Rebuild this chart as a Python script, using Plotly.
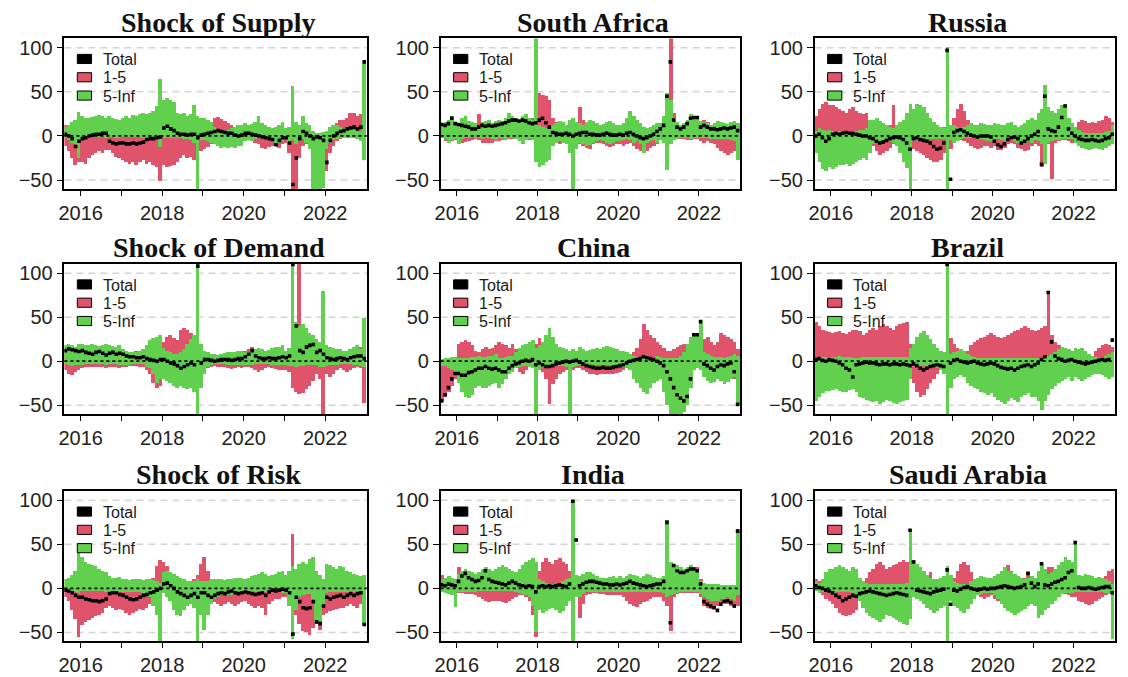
import numpy as np
import pandas as pd
import plotly.graph_objects as go

# Monthly observations, Aug 2015 .. Dec 2022 (89 months)
months = pd.period_range("2015-08", "2022-12", freq="M")
x_year = np.array([p.year + (p.month - 0.5) / 12 for p in months])

# ---------------- Shock of Supply ----------------
supply_total = [2, 0, -3, -12, -6,
    -3, -2, 0, 1, 2, 2, 3, 3, -6, -8, -9, -8,
    -8, -9, -9, -8, -9, -8, -7, -4, -3, -3, -2, -1,
    9, 11, 8, 6, 3, 2, 2, 1, 2, 2, -2, 1,
    2, 3, 4, 5, 6, 5, 4, 3, 3, 1, 0, 1,
    3, 3, 2, 1, 0, -1, -2, -3, -4, -10, -5, -2,
    -2, -8, -55, -25, -3, 5, 3, 0, -3, -1, -2, -5,
    -30, -5, 0, 3, 5, 6, 8, 9, 10, 8, 10, 84]
supply_15_hi = [12, 5, 3, 2, 2,
    2, 1, 1, 1, 1, 1, 1, 1, 1, 1, 1, 1,
    1, 1, 1, 1, 1, 1, 1, 1, 1, 1, 1, 1,
    1, 1, 1, 1, 1, 1, 1, 1, 1, 1, 1, 1,
    3, 5, 12, 20, 21, 19, 16, 14, 12, 8, 6, 5,
    10, 11, 8, 6, 5, 3, 2, 2, 1, 2, 3, 5,
    4, 3, 2, 2, 2, 3, 2, 2, 2, 1, 1, 1,
    3, 8, 12, 14, 18, 17, 20, 25, 26, 22, 24, 20]
supply_15_lo = [-12, -18, -25, -33, -30,
    -30, -32, -25, -22, -20, -18, -20, -17, -16, -20, -24, -25,
    -28, -30, -32, -30, -33, -30, -28, -32, -30, -33, -36, -52,
    -34, -36, -35, -33, -30, -25, -22, -26, -24, -28, -20, -18,
    -15, -13, -10, -5, -3, -2, -2, -2, -3, -4, -5, -5,
    -3, -4, -6, -8, -10, -14, -15, -13, -12, -12, -14, -10,
    -8, -20, -62, -62, -25, -12, -10, -14, -22, -30, -42, -38,
    -40, -20, -12, -6, -4, -3, -3, -3, -2, -2, -3, -5]
supply_5inf_hi = [10, 12, 15, 18, 27,
    22, 20, 20, 21, 22, 23, 22, 20, 22, 20, 19, 18,
    20, 22, 20, 23, 22, 24, 25, 24, 26, 28, 33, 64,
    40, 42, 40, 38, 26, 24, 25, 22, 24, 34, 22, 20,
    20, 18, 15, 10, 6, 5, 5, 6, 8, 10, 12, 12,
    14, 12, 13, 15, 22, 14, 12, 10, 8, 10, 12, 15,
    8, 10, 56, 15, 12, 22, 14, 12, 5, 3, 3, 4,
    5, 10, 12, 12, 10, 8, 8, 8, 6, 6, 5, 82]
supply_5inf_lo = [-3, -5, -8, -10, -26,
    -4, -3, -3, -2, -2, -2, -2, -3, -2, -2, -3, -3,
    -2, -2, -2, -2, -2, -2, -3, -3, -3, -3, -5, -13,
    -3, -3, -3, -3, -3, -3, -4, -4, -5, -8, -62, -5,
    -5, -6, -8, -10, -12, -14, -13, -14, -13, -14, -12, -12,
    -6, -5, -6, -4, -3, -3, -3, -4, -5, -10, -8, -6,
    -3, -8, -5, -10, -6, -4, -8, -15, -62, -62, -62, -60,
    -15, -8, -5, -4, -3, -3, -3, -3, -3, -4, -6, -28]

# ---------------- South Africa ----------------
zaf_total = [13, 12, 14, 20, 14,
    13, 12, 11, 10, 8, 8, 10, 12, 11, 12, 11, 12,
    13, 14, 15, 17, 18, 18, 17, 18, 17, 15, 14, 15,
    18, 20, 15, 10, 4, 3, 2, 2, 3, 2, 0, 2,
    3, 4, 4, 2, 2, 1, 1, 2, 3, 2, 1, 1,
    2, 1, 3, 4, 2, 0, -2, -3, -2, 0, 2, 5,
    8, 12, 45, 84, 18, 10, 8, 10, 14, 20, 21, 21,
    10, 12, 10, 8, 8, 7, 8, 9, 8, 9, 10, 6]
zaf_15_hi = [12, 14, 8, 6, 5,
    3, 3, 4, 5, 6, 8, 24, 10, 8, 6, 5, 5,
    5, 6, 5, 8, 6, 5, 6, 8, 10, 12, 20, 35,
    48, 46, 45, 40, 20, 15, 12, 10, 12, 10, 18, 12,
    32, 18, 10, 8, 6, 5, 5, 4, 5, 4, 4, 4,
    6, 5, 4, 4, 3, 3, 3, 3, 3, 4, 5, 10,
    10, 14, 20, 110, 25, 12, 10, 8, 10, 14, 15, 12,
    16, 18, 15, 12, 10, 8, 7, 6, 6, 5, 5, 5]
zaf_15_lo = [-3, -6, -8, -6, -5,
    -8, -8, -7, -6, -5, -4, -5, -8, -9, -8, -8, -6,
    -6, -5, -5, -4, -4, -4, -5, -6, -5, -5, -3, -3,
    -3, -3, -3, -4, -6, -8, -10, -8, -10, -12, -10, -12,
    -10, -12, -14, -15, -10, -9, -8, -10, -12, -13, -12, -10,
    -10, -12, -10, -8, -12, -15, -18, -20, -18, -14, -12, -10,
    -3, -3, -3, -3, -3, -4, -4, -4, -5, -5, -4, -4,
    -6, -8, -6, -8, -10, -14, -18, -20, -22, -20, -18, -12]
zaf_5inf_hi = [12, 15, 18, 22, 15,
    14, 20, 22, 16, 15, 14, 12, 15, 16, 18, 14, 16,
    18, 16, 20, 25, 22, 20, 18, 22, 24, 20, 18, 110,
    12, 10, 8, 10, 12, 14, 16, 15, 12, 18, 20, 15,
    14, 12, 15, 18, 16, 14, 12, 13, 15, 16, 14, 12,
    12, 14, 20, 28, 22, 18, 14, 10, 8, 10, 12, 14,
    14, 22, 48, 40, 20, 15, 12, 14, 18, 24, 22, 22,
    16, 15, 14, 12, 14, 16, 15, 14, 13, 15, 16, 14]
zaf_5inf_lo = [-3, -4, -8, -5, -4,
    -10, -4, -3, -3, -2, -3, -3, -4, -3, -3, -4, -5,
    -3, -4, -5, -3, -3, -4, -6, -10, -5, -4, -5, -30,
    -36, -34, -30, -28, -12, -8, -6, -8, -10, -20, -62, -15,
    -8, -10, -12, -11, -8, -6, -5, -6, -8, -10, -8, -6,
    -6, -5, -4, -5, -8, -6, -10, -20, -8, -6, -5, -8,
    -5, -8, -39, -10, -5, -4, -3, -3, -3, -4, -3, -3,
    -3, -3, -3, -4, -4, -4, -4, -4, -4, -5, -6, -28]

# ---------------- Russia ----------------
rus_total = [0, 2, -2, -6, -3,
    2, 3, 2, 3, 4, 3, 3, 2, 1, 0, 0, -2,
    -3, -6, -8, -7, -5, -3, -2, -1, -2, -4, -8, -15,
    -3, -2, -4, -5, -6, -8, -12, -15, -14, -8, 97, -49,
    4, 6, 7, 5, 3, 1, 0, -1, 0, 0, 0, -1,
    -6, -10, -12, -9, -4, -2, -1, -3, -8, -6, -3, 0,
    2, 5, -32, 45, 8, 6, 5, 10, 21, 34, 8, 3,
    0, -3, -4, -5, -5, -4, -5, -6, -5, -3, -2, 2]
rus_15_hi = [22, 30, 36, 38, 35,
    35, 32, 30, 28, 26, 30, 32, 28, 26, 24, 25, 10,
    4, 3, 3, 5, 6, 12, 34, 10, 8, 12, 15, 12,
    5, 4, 4, 5, 6, 6, 8, 10, 8, 10, 12, 10,
    20, 30, 36, 28, 18, 8, 6, 5, 5, 6, 6, 6,
    5, 4, 3, 3, 4, 6, 8, 10, 12, 10, 8, 6,
    8, 10, 12, 6, 8, 12, 15, 18, 14, 12, 10, 8,
    8, 15, 18, 16, 14, 15, 14, 16, 18, 22, 20, 15]
rus_15_lo = [-3, -3, -4, -5, -5,
    -4, -4, -4, -4, -3, -3, -4, -4, -4, -5, -5, -6,
    -12, -18, -22, -20, -18, -14, -10, -8, -10, -12, -14, -15,
    -15, -18, -20, -22, -25, -28, -30, -30, -28, -20, -30, -15,
    -6, -5, -5, -6, -8, -12, -14, -15, -14, -12, -12, -14,
    -12, -16, -17, -14, -10, -8, -10, -14, -15, -18, -16, -12,
    -10, -12, -36, -15, -10, -49, -8, -6, -5, -5, -6, -8,
    -8, -6, -5, -4, -4, -4, -4, -4, -4, -5, -6, -8]
rus_5inf_hi = [5, 8, 6, 5, 6,
    5, 5, 5, 4, 4, 4, 5, 5, 6, 6, 8, 18,
    18, 20, 16, 14, 12, 10, 8, 12, 15, 18, 25, 36,
    30, 36, 35, 32, 25, 20, 15, 12, 10, 8, 100, 12,
    12, 10, 8, 10, 12, 14, 12, 12, 14, 13, 12, 12,
    14, 13, 12, 12, 14, 15, 12, 10, 12, 14, 18, 20,
    18, 25, 30, 57, 32, 28, 26, 30, 34, 36, 20, 14,
    10, 6, 4, 3, 3, 3, 3, 3, 3, 4, 5, 12]
rus_5inf_lo = [-20, -30, -38, -40, -36,
    -38, -36, -34, -33, -32, -35, -32, -30, -28, -26, -28, -20,
    -10, -8, -6, -5, -5, -6, -8, -12, -20, -30, -37, -62,
    -6, -5, -5, -5, -4, -4, -4, -4, -4, -4, -62, -5,
    -8, -6, -4, -3, -3, -3, -3, -4, -4, -5, -6, -6,
    -4, -4, -5, -6, -5, -5, -6, -8, -10, -8, -6, -8,
    -5, -6, -10, -32, -8, -6, -5, -5, -4, -4, -4, -4,
    -8, -12, -14, -15, -16, -15, -14, -15, -16, -14, -12, -10]

# ---------------- Shock of Demand ----------------
demand_total = [12, 14, 13, 12, 11,
    12, 10, 9, 8, 10, 11, 9, 7, 9, 10, 8, 9,
    8, 6, 5, 5, 4, 4, 5, 3, 2, 1, 0, 2,
    2, 0, -2, -3, -5, -8, -6, -4, -2, -4, 108, -2,
    2, 2, 1, 0, 1, 2, 2, 2, 1, 2, 3, 3,
    5, 8, 12, 6, 4, 3, 3, 4, 3, 3, 4, 5,
    4, 6, 110, 40, 12, 10, 16, 18, 19, 10, 12, 8,
    4, 3, 2, 3, 4, 3, 2, 4, 5, 6, 6, 3]
demand_15_hi = [14, 12, 10, 8, 8,
    10, 9, 9, 10, 8, 8, 9, 10, 12, 10, 11, 12,
    13, 12, 10, 11, 12, 11, 10, 12, 10, 8, 6, 8,
    22, 28, 30, 26, 24, 35, 38, 36, 32, 30, 42, 20,
    5, 4, 3, 3, 3, 3, 3, 3, 3, 3, 3, 4,
    12, 14, 16, 12, 8, 6, 5, 4, 4, 5, 6, 6,
    6, 8, 20, 40, 110, 15, 10, 8, 8, 6, 6, 6,
    4, 4, 4, 5, 5, 6, 8, 10, 12, 15, 16, 14]
demand_15_lo = [-10, -14, -16, -12, -10,
    -8, -7, -6, -7, -6, -6, -7, -8, -7, -6, -6, -8,
    -6, -6, -5, -5, -5, -6, -6, -10, -15, -25, -30, -28,
    -10, -12, -8, -6, -6, -5, -5, -6, -8, -10, -15, -10,
    -10, -8, -6, -5, -6, -7, -6, -8, -9, -8, -7, -8,
    -6, -7, -8, -10, -12, -10, -8, -7, -8, -9, -10, -10,
    -10, -12, -30, -35, -37, -36, -32, -28, -22, -15, -20, -62,
    -15, -18, -14, -10, -8, -10, -12, -10, -8, -6, -8, -47]
demand_5inf_hi = [18, 20, 18, 16, 20,
    20, 18, 18, 20, 18, 17, 19, 20, 18, 17, 16, 18,
    14, 12, 10, 10, 10, 12, 14, 18, 24, 26, 28, 30,
    15, 12, 10, 8, 8, 10, 14, 20, 25, 30, 112, 20,
    12, 10, 8, 8, 7, 8, 9, 10, 10, 11, 12, 12,
    10, 10, 12, 14, 15, 14, 12, 13, 15, 16, 16, 18,
    12, 15, 110, 45, 40, 42, 38, 32, 30, 25, 22, 80,
    18, 16, 15, 14, 14, 12, 12, 14, 16, 18, 14, 49]
demand_5inf_lo = [-3, -4, -5, -4, -4,
    -4, -3, -3, -3, -3, -3, -3, -4, -3, -3, -3, -4,
    -4, -4, -4, -3, -3, -3, -3, -6, -8, -15, -25, -20,
    -20, -22, -25, -28, -30, -28, -30, -32, -30, -35, -62, -30,
    -15, -6, -4, -3, -3, -3, -3, -4, -4, -4, -4, -4,
    -4, -4, -4, -3, -3, -3, -3, -3, -4, -4, -4, -4,
    -4, -5, -5, -6, -5, -5, -4, -4, -4, -4, -6, -6,
    -5, -4, -4, -4, -3, -3, -3, -3, -4, -4, -5, -6]

# ---------------- China ----------------
chn_total = [-45, -38, -30, -20, -14,
    -14, -16, -16, -13, -12, -10, -8, -8, -6, -8, -9, -8,
    -10, -12, -12, -8, -5, -3, -2, 0, 1, 0, 2, -4,
    -2, -4, -6, -6, -5, -3, -2, -1, 0, -1, 0, 1,
    -1, -3, -5, -6, -7, -8, -8, -7, -8, -8, -7, -6,
    -5, -4, -2, 0, 1, 2, 3, 5, 4, 3, 2, 0,
    -2, -5, -12, -20, -30, -38, -42, -45, -40, -20, 30, 30,
    45, -3, -5, -8, -10, -6, -4, -5, -3, -2, -12, -49]
chn_15_hi = [3, 3, 3, 4, 5,
    20, 22, 24, 22, 18, 12, 10, 14, 16, 14, 15, 18,
    22, 20, 18, 15, 20, 14, 10, 8, 8, 10, 24, 20,
    26, 22, 15, 8, 6, 5, 8, 10, 12, 10, 8, 6,
    6, 5, 5, 4, 4, 4, 4, 4, 4, 4, 4, 5,
    5, 5, 6, 8, 10, 15, 25, 42, 36, 30, 26, 22,
    18, 15, 12, 12, 14, 16, 18, 20, 15, 10, 12, 14,
    20, 25, 28, 22, 18, 22, 32, 30, 28, 25, 22, 14]
chn_15_lo = [-45, -40, -35, -28, -20,
    -5, -4, -3, -3, -3, -4, -4, -4, -5, -5, -6, -5,
    -3, -3, -3, -4, -5, -8, -12, -14, -10, -6, -8, -10,
    -8, -12, -20, -48, -26, -20, -15, -12, -10, -12, -10, -8,
    -8, -10, -12, -14, -15, -16, -15, -14, -14, -15, -14, -13,
    -12, -10, -8, -6, -5, -4, -4, -4, -4, -4, -5, -5,
    -8, -10, -12, -10, -8, -6, -5, -5, -5, -6, -6, -8,
    -4, -4, -4, -5, -5, -5, -4, -4, -5, -8, -20, -26]
chn_5inf_hi = [3, 4, 4, 5, 5,
    4, 4, 4, 4, 5, 5, 6, 5, 5, 6, 6, 8,
    4, 4, 5, 6, 6, 10, 15, 18, 20, 22, 24, 15,
    18, 22, 30, 38, 28, 20, 16, 15, 14, 12, 14, 12,
    16, 14, 12, 13, 14, 15, 14, 16, 17, 16, 15, 14,
    12, 12, 10, 8, 6, 5, 4, 4, 4, 5, 5, 6,
    5, 4, 4, 4, 4, 4, 6, 10, 20, 28, 32, 32,
    46, 10, 8, 6, 5, 5, 5, 4, 5, 6, 8, 6]
chn_5inf_lo = [-5, -5, -8, -10, -15,
    -25, -35, -40, -42, -38, -30, -28, -30, -30, -28, -26, -25,
    -30, -26, -20, -15, -12, -8, -6, -5, -5, -6, -8, -62,
    -10, -6, -5, -5, -5, -4, -5, -5, -6, -62, -6, -5,
    -4, -4, -4, -4, -4, -4, -4, -4, -4, -4, -4, -4,
    -5, -6, -8, -10, -20, -25, -30, -35, -37, -30, -25, -22,
    -20, -35, -50, -62, -62, -62, -60, -58, -50, -30, -10, -8,
    -10, -18, -22, -25, -24, -20, -22, -26, -24, -20, -18, -50]

# ---------------- Brazil ----------------
bra_total = [2, 3, 1, 0, 2,
    1, 0, -2, -4, -8, -10, -18, -4, -3, -2, -1, -2,
    -2, -3, -4, -3, -3, -4, -3, -3, -4, -3, -4, -5,
    -3, -5, -8, -10, -8, -6, -5, -4, -5, -6, 110, -2,
    1, 2, 0, -1, -2, -1, 0, -2, -3, -4, -3, -2,
    -3, -5, -7, -8, -9, -8, -10, -8, -6, -5, -4, -6,
    -4, -2, 2, 5, 78, 22, 6, 3, 2, 0, 1, 2,
    0, -1, -2, -3, -2, -1, 0, 1, 2, 1, 2, 24]
bra_15_hi = [45, 40, 36, 34, 33,
    32, 33, 34, 32, 31, 33, 35, 36, 34, 30, 32, 35,
    38, 36, 40, 42, 40, 38, 36, 40, 42, 44, 45, 20,
    3, 3, 3, 3, 3, 3, 3, 3, 3, 5, 8, 26,
    20, 15, 10, 8, 12, 18, 22, 24, 26, 28, 30, 32,
    30, 28, 26, 28, 30, 32, 34, 36, 38, 40, 38, 36,
    34, 36, 38, 40, 80, 30, 22, 18, 15, 14, 12, 10,
    10, 8, 6, 5, 4, 6, 12, 15, 18, 20, 18, 16]
bra_15_lo = [-3, -3, -3, -3, -3,
    -3, -3, -3, -3, -3, -3, -3, -3, -3, -3, -3, -3,
    -3, -3, -3, -3, -3, -3, -3, -3, -3, -3, -3, -10,
    -25, -35, -40, -38, -32, -25, -20, -15, -10, -6, -5, -5,
    -6, -8, -8, -6, -4, -3, -3, -3, -3, -3, -3, -3,
    -3, -3, -3, -3, -3, -3, -3, -3, -3, -3, -3, -3,
    -3, -3, -3, -3, -3, -3, -4, -5, -6, -8, -8, -6,
    -6, -8, -10, -10, -8, -6, -4, -4, -4, -4, -4, -4]
bra_5inf_hi = [4, 5, 5, 5, 5,
    5, 5, 6, 5, 5, 5, 4, 4, 4, 5, 5, 5,
    5, 5, 5, 5, 5, 5, 5, 5, 5, 5, 5, 15,
    20, 28, 32, 34, 30, 25, 20, 15, 12, 10, 112, 8,
    10, 12, 14, 12, 8, 6, 5, 4, 4, 4, 4, 4,
    4, 4, 4, 4, 4, 4, 4, 4, 4, 4, 4, 4,
    4, 4, 4, 4, 6, 8, 10, 14, 16, 15, 14, 12,
    15, 14, 15, 12, 8, 6, 5, 4, 5, 6, 8, 10]
bra_5inf_lo = [-45, -40, -36, -34, -34,
    -33, -32, -34, -35, -35, -33, -32, -35, -40, -42, -44, -45,
    -46, -45, -48, -46, -44, -45, -47, -48, -46, -45, -44, -20,
    -5, -5, -5, -5, -5, -5, -6, -8, -10, -15, -62, -30,
    -20, -18, -16, -18, -25, -28, -30, -32, -35, -36, -38, -36,
    -40, -44, -46, -48, -45, -42, -44, -46, -40, -38, -36, -40,
    -40, -45, -55, -45, -38, -32, -28, -25, -22, -20, -18, -22,
    -18, -20, -22, -20, -18, -16, -14, -15, -16, -18, -20, -18]

# ---------------- Shock of Risk ----------------
risk_total = [-2, -3, -5, -8, -10,
    -10, -12, -13, -14, -14, -15, -14, -12, -6, -5, -5, -7,
    -8, -10, -12, -13, -12, -10, -8, -7, -5, -4, -2, 0,
    5, 6, 3, 0, -4, -6, -8, -10, -8, -6, -10, -5,
    -5, -8, -10, -8, -6, -5, -6, -4, -3, -5, -6, -5,
    -4, -5, -6, -7, -6, -5, -8, -4, -2, -3, -2, -1,
    -2, -5, -52, -10, -15, -22, -23, -22, -15, -38, -40, -20,
    -10, -12, -10, -9, -8, -10, -8, -6, -8, -6, -5, -41]
risk_15_hi = [3, 3, 3, 3, 3,
    3, 3, 3, 3, 3, 3, 3, 3, 3, 3, 3, 3,
    3, 3, 3, 3, 3, 3, 3, 3, 5, 12, 25, 32,
    30, 25, 15, 8, 5, 4, 4, 5, 6, 10, 15, 28,
    35, 20, 8, 5, 4, 4, 4, 4, 4, 4, 4, 4,
    4, 4, 4, 4, 4, 4, 4, 5, 5, 5, 6, 6,
    4, 5, 62, 5, 5, 5, 5, 5, 5, 5, 5, 4,
    3, 3, 3, 3, 3, 3, 3, 3, 3, 3, 3, 3]
risk_15_lo = [-10, -15, -25, -35, -55,
    -42, -38, -36, -34, -32, -30, -28, -22, -20, -22, -25, -24,
    -25, -28, -30, -28, -26, -24, -25, -22, -18, -15, -12, -8,
    -5, -5, -6, -8, -8, -8, -8, -8, -8, -8, -8, -6,
    -5, -10, -14, -16, -18, -20, -18, -16, -18, -20, -18, -16,
    -15, -18, -20, -22, -20, -22, -30, -18, -14, -12, -12, -10,
    -10, -8, -20, -30, -40, -48, -50, -53, -45, -40, -47, -30,
    -28, -26, -25, -24, -22, -22, -20, -18, -20, -22, -18, -15]
risk_5inf_hi = [10, 12, 15, 20, 41,
    35, 30, 28, 26, 25, 22, 20, 18, 14, 12, 12, 13,
    10, 10, 9, 10, 11, 10, 9, 10, 10, 9, 8, 6,
    18, 20, 18, 16, 14, 12, 10, 8, 8, 8, 10, 8,
    8, 8, 10, 10, 11, 10, 9, 10, 11, 12, 12, 12,
    10, 12, 14, 15, 16, 18, 16, 14, 15, 16, 18, 20,
    15, 20, 25, 22, 28, 30, 28, 33, 35, 20, 15, 10,
    28, 26, 24, 22, 25, 24, 20, 18, 16, 15, 14, 15]
risk_5inf_lo = [-3, -3, -4, -4, -5,
    -3, -3, -3, -3, -3, -3, -3, -4, -4, -4, -4, -4,
    -4, -4, -4, -4, -4, -4, -5, -6, -10, -20, -30, -62,
    -5, -10, -15, -25, -30, -32, -25, -20, -18, -22, -62, -30,
    -47, -30, -18, -12, -10, -8, -8, -8, -8, -6, -6, -6,
    -4, -4, -4, -4, -4, -4, -4, -4, -4, -4, -4, -5,
    -5, -20, -58, -25, -10, -8, -6, -6, -15, -38, -40, -20,
    -5, -4, -4, -4, -4, -4, -4, -4, -4, -4, -5, -42]

# ---------------- India ----------------
ind_total = [4, 3, 5, 4, 3,
    8, 14, 17, 12, 10, 8, 9, 12, 20, 10, 8, 7,
    6, 5, 4, 6, 8, 6, 4, 3, 2, 3, 2, -4,
    2, 3, 2, 3, 2, 3, 4, 3, 2, 5, 99, 55,
    3, 5, 7, 8, 8, 7, 6, 5, 5, 4, 4, 5,
    4, 5, 6, 8, 6, 5, 4, 3, 2, 3, 4, 5,
    5, 8, 75, -39, 26, 20, 18, 18, 20, 22, 22, 20,
    5, -15, -18, -20, -22, -25, -18, -15, -14, -16, -20, 65]
ind_15_hi = [15, 12, 10, 8, 6,
    24, 12, 8, 6, 5, 5, 5, 6, 6, 5, 5, 5,
    5, 5, 5, 5, 5, 6, 8, 10, 12, 14, 18, 20,
    20, 30, 34, 30, 28, 32, 34, 30, 28, 20, 15, 10,
    12, 10, 14, 16, 15, 14, 12, 10, 8, 8, 8, 8,
    5, 5, 5, 5, 5, 5, 5, 5, 5, 6, 6, 6,
    6, 8, 6, 6, 8, 10, 12, 14, 16, 18, 22, 24,
    10, 3, 3, 3, 3, 3, 3, 3, 3, 3, 3, 3]
ind_15_lo = [-4, -5, -5, -6, -5,
    -5, -5, -6, -6, -6, -8, -10, -12, -14, -16, -15, -14,
    -14, -16, -17, -15, -12, -10, -8, -8, -10, -14, -30, -55,
    -8, -6, -5, -5, -5, -5, -5, -5, -6, -8, -10, -8,
    -34, -18, -8, -6, -5, -5, -6, -6, -8, -8, -8, -8,
    -8, -10, -15, -18, -20, -21, -18, -16, -14, -12, -10, -10,
    -10, -15, -20, -49, -10, -6, -5, -5, -5, -5, -5, -5,
    -10, -20, -22, -24, -22, -20, -18, -16, -18, -20, -22, -20]
ind_5inf_hi = [10, 12, 14, 12, 10,
    16, 20, 22, 20, 18, 16, 18, 22, 24, 22, 20, 22,
    24, 26, 24, 22, 20, 18, 22, 26, 30, 32, 34, 30,
    10, 8, 6, 5, 5, 5, 6, 8, 10, 12, 100, 15,
    14, 16, 18, 18, 16, 14, 12, 12, 12, 13, 14, 12,
    14, 12, 14, 16, 15, 14, 12, 14, 16, 15, 13, 12,
    12, 14, 77, 30, 28, 26, 24, 22, 24, 26, 24, 22,
    8, 6, 5, 5, 5, 5, 4, 4, 4, 4, 4, 67]
ind_5inf_lo = [-4, -5, -6, -8, -21,
    -4, -4, -4, -4, -4, -4, -3, -3, -3, -3, -3, -3,
    -3, -3, -3, -3, -3, -4, -5, -6, -8, -10, -20, -50,
    -25, -28, -26, -24, -22, -25, -28, -26, -20, -15, -62, -10,
    -10, -6, -4, -4, -4, -4, -4, -4, -4, -4, -4, -4,
    -4, -4, -4, -4, -4, -4, -4, -4, -4, -4, -4, -4,
    -4, -5, -10, -8, -6, -5, -4, -4, -4, -4, -4, -4,
    -6, -10, -12, -14, -15, -14, -12, -12, -10, -12, -14, -8]

# ---------------- Saudi Arabia ----------------
sau_total = [3, 1, 0, -2, -3,
    -5, -8, -10, -14, -12, -10, -8, -9, -6, -5, -4, -3,
    -4, -5, -6, -7, -8, -7, -6, -5, -6, -7, -8, 66,
    30, -2, -3, -4, -5, -6, -4, -3, -2, -1, 21, -18,
    -2, -3, -1, 1, 2, 0, -1, -2, -1, 0, -1, 0,
    0, 1, 2, 3, 2, 1, 0, 1, 2, 4, 17, 6,
    2, 5, 28, 4, 3, 5, 7, 8, 10, 12, 18, 20,
    52, 1, 0, 0, 1, 0, -1, 0, 1, 2, 2, -5]
sau_15_hi = [10, 8, 6, 5, 5,
    3, 3, 3, 3, 3, 3, 3, 4, 6, 8, 12, 18,
    22, 28, 30, 26, 22, 24, 26, 28, 30, 32, 30, 28,
    5, 8, 10, 12, 15, 18, 10, 8, 6, 5, 5, 6,
    12, 20, 28, 30, 26, 18, 10, 8, 6, 5, 5, 5,
    6, 8, 12, 22, 26, 20, 14, 10, 8, 12, 18, 14,
    10, 12, 15, 20, 24, 24, 22, 20, 14, 10, 8, 6,
    6, 5, 4, 4, 4, 4, 5, 6, 10, 14, 20, 22]
sau_15_lo = [-3, -5, -8, -12, -14,
    -18, -22, -28, -30, -32, -30, -28, -25, -10, -6, -5, -4,
    -3, -3, -3, -3, -3, -3, -3, -3, -3, -3, -3, -3,
    -8, -10, -12, -10, -8, -6, -6, -8, -10, -12, -10, -8,
    -5, -4, -4, -4, -4, -4, -6, -8, -10, -12, -10, -8,
    -12, -14, -15, -12, -10, -8, -8, -8, -10, -10, -12, -10,
    -12, -15, -14, -10, -8, -6, -6, -6, -6, -6, -8, -10,
    -10, -14, -16, -18, -19, -18, -15, -12, -10, -8, -6, -8]
sau_5inf_hi = [8, 6, 10, 18, 22,
    22, 24, 26, 24, 22, 20, 24, 22, 12, 8, 6, 5,
    5, 5, 5, 5, 5, 5, 5, 5, 5, 5, 6, 66,
    32, 28, 24, 20, 15, 12, 10, 10, 12, 14, 25, 15,
    8, 6, 5, 5, 5, 8, 10, 12, 14, 13, 12, 12,
    14, 16, 20, 24, 20, 18, 16, 14, 12, 10, 12, 14,
    12, 20, 28, 22, 16, 18, 22, 26, 30, 36, 32, 30,
    52, 15, 14, 16, 15, 14, 12, 13, 12, 10, 8, 5]
sau_5inf_lo = [-3, -5, -4, -4, -5,
    -5, -4, -4, -4, -4, -4, -5, -8, -15, -22, -28, -32,
    -34, -36, -38, -35, -30, -32, -34, -36, -38, -40, -42, -35,
    -10, -12, -15, -18, -22, -25, -28, -26, -22, -20, -62, -15,
    -20, -22, -26, -28, -24, -18, -12, -8, -6, -5, -5, -5,
    -8, -12, -18, -22, -26, -28, -30, -28, -26, -24, -20, -18,
    -20, -34, -30, -25, -22, -18, -15, -10, -6, -5, -5, -5,
    -4, -4, -4, -4, -4, -4, -4, -4, -4, -5, -6, -58]

panels = [
    ("Shock of Supply", supply_total, supply_15_hi, supply_15_lo, supply_5inf_hi, supply_5inf_lo),
    ("South Africa", zaf_total, zaf_15_hi, zaf_15_lo, zaf_5inf_hi, zaf_5inf_lo),
    ("Russia", rus_total, rus_15_hi, rus_15_lo, rus_5inf_hi, rus_5inf_lo),
    ("Shock of Demand", demand_total, demand_15_hi, demand_15_lo, demand_5inf_hi, demand_5inf_lo),
    ("China", chn_total, chn_15_hi, chn_15_lo, chn_5inf_hi, chn_5inf_lo),
    ("Brazil", bra_total, bra_15_hi, bra_15_lo, bra_5inf_hi, bra_5inf_lo),
    ("Shock of Risk", risk_total, risk_15_hi, risk_15_lo, risk_5inf_hi, risk_5inf_lo),
    ("India", ind_total, ind_15_hi, ind_15_lo, ind_5inf_hi, ind_5inf_lo),
    ("Saudi Arabia", sau_total, sau_15_hi, sau_15_lo, sau_5inf_hi, sau_5inf_lo),
]
for p in panels:
    for series in p[1:]:
        assert len(series) == len(x_year), (p[0], len(series))

RED, GREEN = "#DF536B", "#61D04F"
legend_items = [("Total", "black"), ("1-5", RED), ("5-Inf", GREEN)]

# page geometry (pixels)
W, H = 1128, 677
COLS = [(58.7, 362.7), (437.0, 738.0), (813.0, 1114.7)]
ROWS = [(36.7, 188.0), (263.5, 414.5), (492.0, 643.0)]
X_RANGE = [2015.60, 2023.02]
Y_RANGE = [-60, 110.5]
BAR_W = 1.1 / 12
LEG_PITCH = 18.4

def px(x):
    return x / W

def py(y):
    return 1 - y / H

TICK_FONT = dict(family="Liberation Sans, Arial, sans-serif", size=20, color="#222222")

fig = go.Figure()
shapes, annotations = [], []
layout_axes = {}

for i, (title, tot, r_hi, r_lo, g_hi, g_lo) in enumerate(panels):
    row, col = divmod(i, 3)
    sfx = "" if i == 0 else str(i + 1)
    xa, ya = "x" + sfx, "y" + sfx
    left, right = COLS[col]
    top, bottom = ROWS[row]

    r_hi, r_lo = np.array(r_hi), np.array(r_lo)
    g_hi, g_lo = np.array(g_hi), np.array(g_lo)

    fig.add_trace(go.Bar(x=x_year, y=r_hi - r_lo, base=r_lo, width=BAR_W,
                         marker=dict(color=RED, line=dict(width=0)), opacity=1,
                         xaxis=xa, yaxis=ya, showlegend=False, name="1-5"))
    fig.add_trace(go.Bar(x=x_year, y=g_hi - g_lo, base=g_lo, width=BAR_W,
                         marker=dict(color=GREEN, line=dict(width=0)), opacity=1,
                         xaxis=xa, yaxis=ya, showlegend=False, name="5-Inf"))
    fig.add_trace(go.Scatter(x=x_year, y=tot, mode="markers",
                             marker=dict(symbol="square", size=3.6, color="black", line=dict(width=0)),
                             xaxis=xa, yaxis=ya, showlegend=False, name="Total"))

    layout_axes["xaxis" + sfx] = dict(
        domain=[px(left), px(right)], range=X_RANGE, anchor=ya,
        tickvals=list(range(2016, 2023)),
        ticktext=["2016", "", "2018", "", "2020", "", "2022"],
        ticks="outside", ticklen=5, tickwidth=1, tickcolor="black",
        showline=True, mirror=True, linecolor="black", linewidth=1.5,
        showgrid=False, zeroline=False, tickfont=TICK_FONT, fixedrange=True)
    layout_axes["yaxis" + sfx] = dict(
        domain=[py(bottom), py(top)], range=Y_RANGE, anchor=xa,
        tickvals=[-50, 0, 50, 100],
        ticks="outside", ticklen=6, tickwidth=1, tickcolor="black",
        showline=True, mirror=True, linecolor="black", linewidth=1.5,
        showgrid=False, zeroline=False, tickfont=TICK_FONT, fixedrange=True)

    # dashed reference lines
    for v in (-50, 50, 100):
        shapes.append(dict(type="line", xref=f"{xa} domain", yref=ya, x0=0, x1=1, y0=v, y1=v,
                           line=dict(color="#d4d4d4", width=1.5, dash="7px,5px"), layer="below"))
    shapes.append(dict(type="line", xref=f"{xa} domain", yref=ya, x0=0, x1=1, y0=0, y1=0,
                       line=dict(color="black", width=1.8, dash="3px,3px"), layer="above"))

    # panel title
    annotations.append(dict(text=f"<b>{title}</b>", x=px((left + right) / 2 + 3), y=py(top - 16.5),
                            xref="paper", yref="paper", showarrow=False,
                            xanchor="center", yanchor="middle",
                            font=dict(family="Liberation Serif, Times New Roman, serif", size=28, color="#111111")))

    # in-panel legend
    for k, (label, color) in enumerate(legend_items):
        y0 = top + 16.0 + k * LEG_PITCH
        shapes.append(dict(type="rect", xref="paper", yref="paper",
                           x0=px(left + 13), x1=px(left + 27.3), y0=py(y0 + 9.2), y1=py(y0),
                           fillcolor=color, line=dict(color="black", width=1), layer="above"))
        annotations.append(dict(text=label, x=px(left + 37), y=py(y0 + 5.2),
                                xref="paper", yref="paper", showarrow=False,
                                xanchor="left", yanchor="middle",
                                font=dict(family="Liberation Sans, Arial, sans-serif", size=16, color="#1a1a1a")))

fig.update_layout(
    width=W, height=H, autosize=False,
    margin=dict(l=0, r=0, t=0, b=0),
    paper_bgcolor="white", plot_bgcolor="white",
    barmode="overlay", bargap=0,
    showlegend=False,
    shapes=shapes, annotations=annotations,
    **layout_axes,
)

fig.write_html("out.html")
